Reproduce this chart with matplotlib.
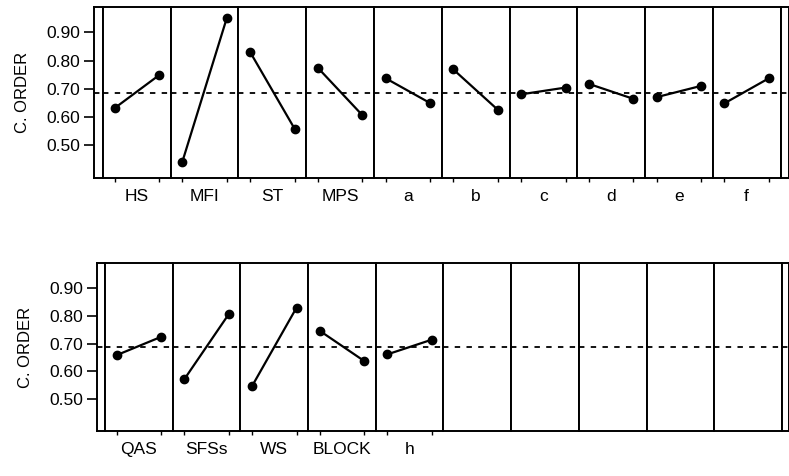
import matplotlib.pyplot as plt

plt.rcParams['font.family'] = ['Liberation Sans', 'DejaVu Sans']

# main effects, first row
factors_top = ['HS', 'MFI', 'ST', 'MPS', 'a', 'b', 'c', 'd', 'e', 'f']
low_top = [0.632, 0.442, 0.831, 0.775, 0.738, 0.769, 0.681, 0.718, 0.671, 0.649]
high_top = [0.749, 0.952, 0.559, 0.607, 0.650, 0.626, 0.705, 0.665, 0.711, 0.738]

# main effects, second row
factors_bot = ['QAS', 'SFSs', 'WS', 'BLOCK', 'h']
low_bot = [0.658, 0.571, 0.546, 0.746, 0.661]
high_bot = [0.724, 0.806, 0.829, 0.637, 0.714]

grand_mean = 0.687
yticks = [0.50, 0.60, 0.70, 0.80, 0.90]
n_panels = 10

fig = plt.figure(figsize=(7.89, 4.76), dpi=100)


def draw_row(left, right, bottom, top, strips, names, lows, highs):
    ratios = [strips[0]] + [68] * n_panels + [strips[1]]
    gs = fig.add_gridspec(1, n_panels + 2, left=left, right=right, bottom=bottom,
                          top=top, wspace=0, width_ratios=ratios)
    axes = [fig.add_subplot(gs[0, i]) for i in range(n_panels + 2)]
    for ax in axes:
        ax.set_ylim(0.385, 0.99)
        ax.set_xlim(0.74, 2.26)
        ax.set_xticks([])
        ax.set_yticks([])
        ax.axhline(grand_mean, color='black', lw=1.3, ls=(0, (3, 3.5)), zorder=1)
        for s in ax.spines.values():
            s.set_linewidth(1.4)

    first = axes[0]
    first.set_yticks(yticks)
    first.set_yticklabels(['%.2f' % v for v in yticks], fontsize=12.5)
    first.tick_params(axis='y', length=7, width=1.2, pad=3)
    first.set_ylabel('C. ORDER', fontsize=12, labelpad=12)

    for i, name in enumerate(names):
        ax = axes[i + 1]
        ax.plot([1, 2], [lows[i], highs[i]], color='black', lw=1.6,
                marker='o', ms=6, zorder=3)
        ax.set_xticks([1, 2])
        ax.tick_params(axis='x', length=3, width=1, labelbottom=False)
        ax.set_xlabel(name, fontsize=12.5, labelpad=5)


draw_row(94 / 789, 788.5 / 789, 1 - 178 / 476, 1 - 7 / 476, (9, 8),
         factors_top, low_top, high_top)
draw_row(97 / 789, 789 / 789, 1 - 431 / 476, 1 - 263 / 476, (8, 7),
         factors_bot, low_bot, high_bot)

plt.savefig('out.png', dpi=100)
